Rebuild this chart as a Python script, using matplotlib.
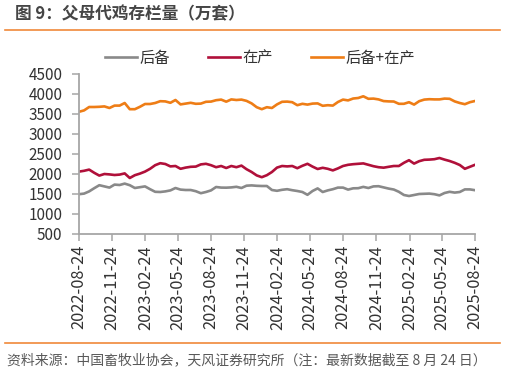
import matplotlib
matplotlib.use("Agg")
import matplotlib.pyplot as plt
import matplotlib.dates as mdates
from matplotlib.lines import Line2D
import numpy
import pandas as pd

plt.rcParams['font.family'] = ['Noto Sans CJK SC', 'DejaVu Sans']

# biweekly readings, 2022-08-24 .. 2025-08-24 (万套)
houbei = [1495, 1510, 1565, 1645, 1720, 1690, 1660, 1735, 1725, 1760,
          1720, 1650, 1670, 1690, 1620, 1555, 1550, 1565, 1590, 1650,
          1610, 1600, 1600, 1570, 1520, 1550, 1590, 1675, 1660, 1658,
          1665, 1680, 1650, 1708, 1715, 1705, 1700, 1700, 1600, 1580,
          1605, 1620, 1595, 1575, 1550, 1480, 1575, 1640, 1550, 1590,
          1620, 1660, 1660, 1610, 1642, 1645, 1678, 1650, 1690, 1695,
          1665, 1635, 1612, 1555, 1475, 1450, 1475, 1500, 1505, 1510,
          1495, 1465, 1525, 1555, 1535, 1550, 1615, 1615, 1595]
zaichan = [2060, 2080, 2110, 2030, 1960, 2000, 1990, 1975, 1985, 2015,
           1900, 1970, 2010, 2060, 2130, 2220, 2270, 2250, 2190, 2200,
           2130, 2160, 2180, 2185, 2240, 2255, 2220, 2170, 2200, 2150,
           2200, 2170, 2210, 2120, 2050, 1965, 1920, 1970, 2050, 2160,
           2200, 2190, 2200, 2145, 2205, 2255, 2185, 2125, 2155, 2130,
           2090, 2140, 2200, 2230, 2245, 2255, 2265, 2230, 2195, 2170,
           2158, 2180, 2200, 2200, 2280, 2345, 2260, 2320, 2355, 2360,
           2370, 2400, 2360, 2325, 2280, 2225, 2130, 2180, 2230]
total = numpy.array(houbei) + numpy.array(zaichan)

dates = pd.date_range('2022-08-24', '2025-08-24', periods=len(houbei))
tick_dates = pd.date_range('2022-08-24', '2025-08-24', freq=pd.DateOffset(months=3))
y_ticks = list(range(500, 4501, 500))

GRAY = '#898989'
RED = '#B0103A'
ORANGE = '#EE7D16'
AXIS = '#A6A6A6'
TEXT = '#333333'

fig = plt.figure(figsize=(5.05, 3.72), dpi=100)
ax = fig.add_axes([79/505, 1 - 234/372, 396/505, 160/372])

ax.plot(dates, houbei, color=GRAY, lw=1.9, label='后备')
ax.plot(dates, zaichan, color=RED, lw=1.9, label='在产')
ax.plot(dates, total, color=ORANGE, lw=1.9, label='后备+在产')

ax.set_xlim(dates[0], dates[-1])
ax.set_ylim(500, 4500)
ax.set_yticks(y_ticks)
ax.set_xticks(tick_dates)
ax.xaxis.set_major_formatter(mdates.DateFormatter('%Y-%m-%d'))

for side in ['top', 'right']:
    ax.spines[side].set_visible(False)
for side in ['left', 'bottom']:
    ax.spines[side].set_color(AXIS)
    ax.spines[side].set_linewidth(1.3)
ax.tick_params(axis='y', colors=AXIS, labelcolor=TEXT, labelsize=11, length=5, width=1.1, pad=7)
ax.tick_params(axis='x', colors=AXIS, labelcolor=TEXT, labelsize=11.8, length=5, width=1.1, pad=3,
               labelrotation=90)

fig.legend(loc='center', bbox_to_anchor=(260/505, 1 - 58/372), ncol=3, frameon=False,
           fontsize=11, handlelength=2.1, handletextpad=0.15, columnspacing=2.5,
           labelcolor=TEXT)

fig.text(15/505, 1 - 14/372, '图 9：父母代鸡存栏量（万套）', fontsize=12, fontweight='bold',
         color='#454545', va='center', ha='left')
fig.add_artist(Line2D([5/505, 500/505], [1 - 30/372, 1 - 30/372], color='#F0893A', lw=1.2))
fig.add_artist(Line2D([5/505, 500/505], [1 - 343/372, 1 - 343/372], color='#F0893A', lw=1.2))
fig.text(7/505, 1 - 360/372, '资料来源：中国畜牧业协会，天风证券研究所（注：最新数据截至 8 月 24 日）',
         fontsize=10, color='#595959', va='center', ha='left')

plt.savefig('out.png', dpi=100)
